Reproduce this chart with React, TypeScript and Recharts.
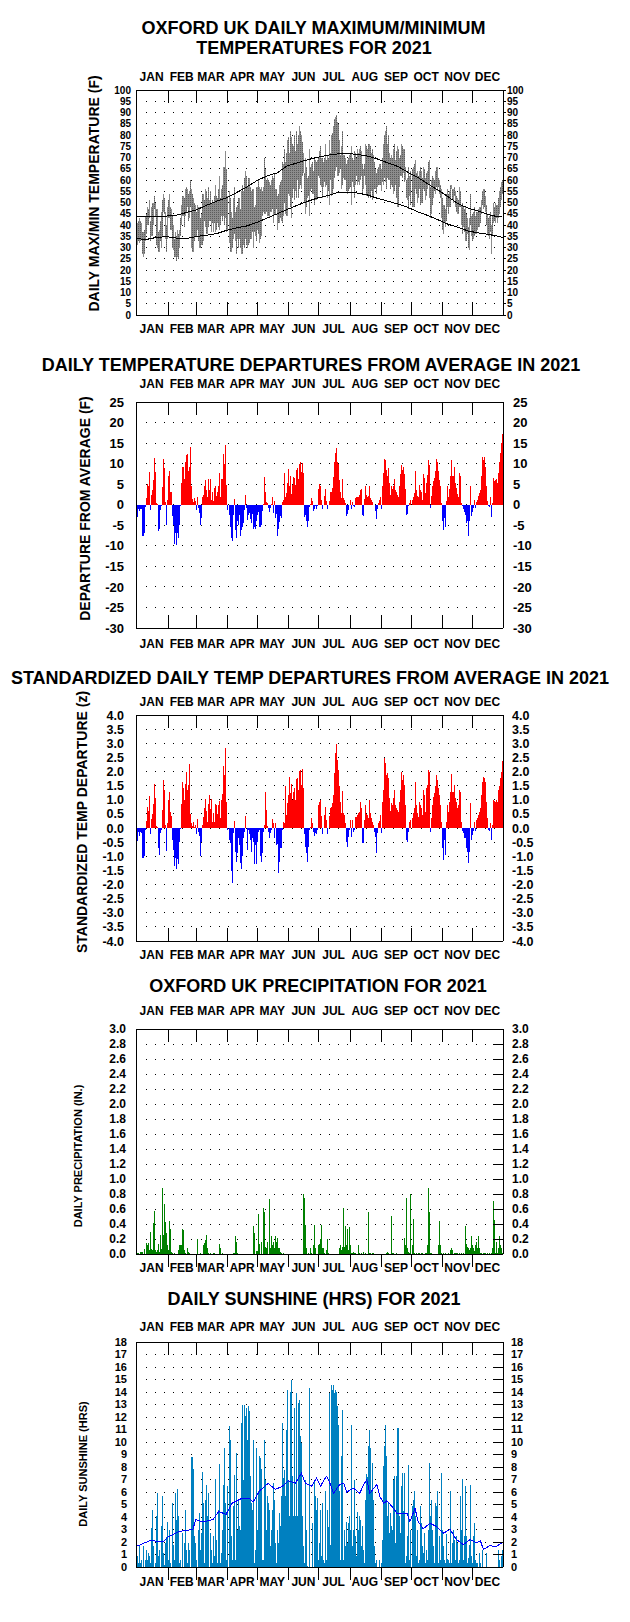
import React from "react";
import { Bar, CartesianGrid, Cell, ComposedChart, Line, XAxis, YAxis } from "recharts";

const FONT = "'Liberation Sans', Arial, Helvetica, sans-serif";

const months = ["JAN", "FEB", "MAR", "APR", "MAY", "JUN", "JUL", "AUG", "SEP", "OCT", "NOV", "DEC"];
const monthDays = [31, 28, 31, 30, 31, 30, 31, 31, 30, 31, 30, 31];

// daily max / min temperature (F), one row per month
const tmaxByMonth = [
  [39, 41, 42, 43, 42, 41, 37, 37, 38, 44, 45, 48, 47, 51, 42, 48, 50, 50, 53, 50, 47, 47, 37, 38, 42, 46, 51, 54, 52, 46, 40],
  [48, 51, 54, 48, 47, 44, 40, 34, 37, 35, 38, 36, 38, 43, 49, 53, 53, 52, 56, 57, 56, 54, 55, 60, 56, 54, 52, 50],
  [49, 46, 49, 48, 48, 43, 45, 54, 54, 51, 56, 55, 52, 57, 51, 55, 50, 51, 50, 53, 58, 53, 52, 56, 62, 52, 56, 58, 66, 66, 73],
  [65, 53, 55, 52, 46, 43, 52, 57, 46, 48, 49, 52, 52, 47, 55, 58, 55, 61, 64, 62, 57, 61, 61, 57, 55, 56, 56, 48, 49, 57],
  [57, 60, 57, 56, 57, 55, 57, 70, 65, 60, 61, 60, 59, 58, 60, 62, 61, 63, 56, 56, 53, 54, 58, 59, 60, 68, 67, 74, 68, 72, 78],
  [79, 72, 82, 79, 76, 75, 80, 73, 82, 76, 80, 84, 82, 80, 77, 72, 63, 70, 66, 61, 62, 74, 66, 67, 68, 64, 70, 69, 68, 69],
  [70, 73, 75, 70, 70, 68, 70, 76, 69, 71, 70, 78, 72, 80, 81, 84, 87, 88, 89, 86, 85, 78, 71, 75, 82, 71, 71, 70, 67, 69, 70],
  [71, 72, 75, 70, 69, 73, 72, 70, 74, 72, 74, 75, 73, 67, 65, 67, 76, 75, 74, 76, 76, 75, 72, 74, 71, 68, 65, 63, 65, 66, 67],
  [67, 65, 70, 76, 80, 82, 84, 76, 80, 72, 70, 71, 70, 74, 76, 69, 73, 75, 74, 70, 71, 76, 75, 74, 74, 66, 60, 61, 66, 62],
  [64, 65, 66, 67, 69, 63, 64, 62, 64, 66, 64, 61, 66, 65, 61, 63, 64, 68, 69, 57, 60, 62, 61, 60, 64, 66, 66, 61, 60, 58, 56],
  [52, 49, 49, 47, 54, 56, 54, 55, 58, 58, 56, 56, 57, 55, 53, 52, 51, 57, 55, 49, 50, 48, 47, 48, 45, 43, 39, 43, 54, 44],
  [45, 46, 48, 44, 46, 46, 47, 48, 48, 51, 55, 56, 56, 53, 49, 45, 43, 44, 46, 40, 44, 50, 48, 50, 49, 49, 52, 55, 57, 59, 60],
];
const tminByMonth = [
  [25, 31, 33, 32, 33, 34, 27, 26, 27, 33, 36, 40, 40, 43, 33, 35, 35, 40, 47, 44, 31, 30, 28, 28, 33, 30, 35, 46, 45, 34, 28],
  [34, 43, 43, 38, 38, 30, 29, 26, 26, 24, 26, 25, 30, 35, 40, 44, 44, 39, 44, 46, 48, 42, 43, 48, 30, 28, 28, 33],
  [35, 35, 38, 33, 30, 30, 31, 31, 33, 42, 39, 36, 36, 39, 42, 42, 37, 41, 37, 41, 37, 38, 41, 39, 38, 40, 44, 42, 44, 40, 43],
  [37, 38, 32, 28, 28, 30, 34, 36, 33, 27, 34, 30, 34, 30, 27, 27, 31, 30, 34, 31, 30, 31, 32, 34, 34, 37, 30, 37, 35, 33],
  [38, 36, 32, 34, 35, 44, 46, 45, 45, 46, 44, 44, 43, 46, 46, 47, 41, 45, 45, 47, 38, 41, 41, 43, 42, 41, 44, 50, 45, 44, 44],
  [54, 53, 48, 43, 52, 56, 51, 55, 52, 60, 52, 56, 58, 56, 62, 63, 50, 45, 48, 52, 53, 44, 55, 56, 54, 54, 49, 51, 51, 52],
  [62, 61, 58, 57, 52, 57, 59, 57, 58, 52, 55, 49, 60, 53, 54, 56, 61, 64, 66, 62, 62, 63, 65, 56, 58, 61, 60, 60, 55, 54, 55],
  [56, 57, 49, 59, 57, 52, 58, 62, 58, 59, 58, 60, 62, 54, 56, 62, 58, 53, 54, 52, 53, 52, 55, 51, 53, 56, 56, 54, 57, 58, 58],
  [58, 55, 59, 58, 61, 59, 56, 61, 60, 60, 56, 58, 57, 54, 55, 58, 52, 48, 48, 57, 62, 62, 61, 63, 59, 60, 52, 51, 47, 53],
  [49, 48, 48, 48, 56, 54, 50, 52, 56, 49, 50, 50, 56, 55, 51, 53, 56, 58, 52, 43, 45, 49, 52, 55, 54, 57, 55, 57, 54, 52, 43],
  [38, 36, 41, 39, 42, 48, 45, 48, 48, 56, 51, 50, 53, 48, 46, 45, 45, 48, 48, 40, 36, 39, 37, 33, 33, 36, 30, 29, 40, 35],
  [33, 34, 35, 36, 36, 38, 39, 39, 41, 45, 49, 47, 48, 46, 40, 36, 35, 34, 37, 27, 35, 41, 42, 41, 43, 41, 43, 45, 48, 51, 54],
];

// normal max / min, read every 10 days
const normalDays = [0, 10, 20, 30, 40, 50, 60, 70, 80, 90, 100, 110, 120, 130, 140, 150, 160, 170, 180, 190, 200, 210, 220, 230, 240, 250, 260, 270, 280, 290, 300, 310, 320, 330, 340, 350, 360, 364];
const normalMax = [43.8, 43.6, 43.6, 44.0, 44.4, 45.6, 46.8, 48.8, 50.6, 52.2, 54.5, 57.0, 59.8, 61.8, 63.2, 66.3, 67.6, 69.0, 70.1, 71.0, 71.6, 71.7, 71.4, 70.6, 69.3, 67.6, 66.0, 63.4, 61.1, 58.2, 55.5, 52.5, 49.4, 47.5, 46.2, 44.6, 43.6, 43.6];
const normalMin = [33.9, 33.6, 34.5, 34.8, 34.2, 34.0, 34.9, 35.5, 36.2, 37.7, 38.8, 39.6, 41.2, 43.1, 45.0, 46.9, 48.8, 50.5, 52.0, 53.0, 54.4, 54.4, 54.2, 53.3, 51.8, 50.6, 49.3, 47.8, 45.8, 44.2, 42.3, 40.3, 39.0, 37.3, 36.5, 35.8, 35.0, 34.4];

// average sunshine line, read at the days listed
const sunAvgDays = [0, 13, 27, 31, 43, 56, 59, 66, 76, 82, 89, 95, 105, 112, 116, 122, 131, 138, 145, 151, 158, 164, 168, 174, 179, 183, 186, 189, 193, 196, 202, 206, 209, 216, 222, 226, 229, 232, 239, 242, 246, 249, 254, 259, 269, 272, 277, 280, 285, 292, 298, 305, 312, 318, 325, 332, 338, 342, 345, 351, 358, 363];
const sunAvg = [1.65, 2.1, 2.05, 2.4, 2.85, 3.0, 3.8, 3.6, 3.8, 4.45, 4.2, 5.1, 5.5, 5.5, 5.2, 6.05, 6.7, 6.2, 6.45, 6.9, 6.7, 7.5, 6.7, 6.45, 7.1, 6.45, 6.9, 7.25, 6.6, 5.9, 6.6, 6.7, 6.0, 6.3, 5.9, 6.6, 7.0, 5.9, 6.6, 5.65, 5.1, 5.3, 4.85, 4.3, 4.3, 3.65, 4.7, 3.65, 3.05, 3.5, 3.25, 2.7, 3.0, 2.2, 1.8, 2.2, 1.95, 2.1, 1.4, 1.7, 1.65, 1.9];

// daily departure from average (F)
const depByMonth = [
  [-6.7, -3, -1, -1.6, -1, -1, -7.5, -7.5, -7, -0.5, 1.6, 5, 4.5, 8, -1.4, 2.4, 3.7, 6, 11.3, 8, 0.5, 0.2, -6.5, -6, -1.2, -0.4, 4.2, 11.2, 9, 0.7, -5],
  [1.2, 7, 8.3, 3.2, 3, -2.8, -5, -9.5, -7, -9.8, -7, -8, -5, -0.3, 5.3, 9.3, 9.1, 6.2, 10.3, 12, 12.4, 8.3, 9.3, 14, 4.5, 1.5, 0.6, 1.6],
  [0.8, -1.2, 1.9, -0.8, -2, -5, -3.2, 1.9, 2.3, 4.5, 6, 3.7, 1.9, 6.2, 3.7, 6.2, 1.2, 3.2, 0.8, 4, 4.6, 2.2, 3.2, 4.6, 7.7, 1.9, 6.2, 6.2, 12.3, 10, 14.6],
  [4.8, -1.4, -2.6, -5.4, -8.1, -8.9, -2.4, 1.5, -6.1, -8.1, -4, -4.9, -2.4, -7.7, -6.2, -5.3, -4.5, -1.4, 2.4, -0.8, -3.8, -2.4, -2, -3.5, -4.5, -2.2, -6, -5.3, -6, -4],
  [-2.4, -1.8, -5.4, -5.3, -4.9, -1.6, 0.2, 6.7, 3.2, 0.6, 0.4, -0.8, -1.8, -0.8, 0.2, 1.9, -2, 1, -3.2, -2.2, -7.7, -5.9, -4.3, -2.8, -3.2, 0.6, 1.2, 7.7, 2, 2.8, 5.3],
  [8.8, 4.5, 6.9, 2.7, 4.9, 6.7, 6.6, 4.9, 8.5, 8.9, 6.2, 10, 10.3, 8, 10.2, 7.7, -3, -2.4, -4, -5.4, -4, -0.6, 0.1, 1.6, 0.8, -1.6, -1, -0.4, -1, -0.4],
  [3.8, 5, 4.5, 1.2, -1, 0, 2.2, 3.8, 0.8, -1, 0, 0.8, 3, 3.2, 4, 6.7, 10.5, 12.6, 13.8, 10.5, 10, 6, 3.2, 1.6, 6.2, 1.6, 1.2, 0.4, -2.8, -2.2, -1.2],
  [0, 1.2, -1, 0.6, -0.4, -0.6, 1.6, 2, 1.9, 1.8, 2.4, 3.7, 3.8, -2.4, -2.7, 1.5, 4.5, 2.4, 2, 2.2, 4.6, 1.6, 1.2, 0.6, 0, 0, -1.6, -3.5, -1, 0.4, 1.2],
  [2, -1, 4.6, 7.7, 11.1, 10.8, 8.5, 7, 8.9, 5.3, 2.4, 4.5, 3.8, 4.5, 6.2, 3.7, 3, 2.4, 1.9, 4.5, 7.5, 9.7, 8.5, 9.2, 7.5, 3.8, -2.4, -2.2, -0.4, 0.4],
  [1.1, 1.2, 2, 2.8, 8.1, 3.6, 2.2, 2, 4.9, 3.6, 3.2, 1.2, 7.5, 6.5, 2.8, 5.3, 7.3, 11, 9.7, -0.8, 2.2, 4.5, 5.7, 6.5, 8.3, 11.1, 10.3, 8.1, 6.1, 4.5, 0.4],
  [-4, -6.1, -3.3, -5.3, 0.8, 4.5, 2, 3.8, 6.9, 10.8, 7, 6.9, 9.3, 5.3, 4, 2.7, 2, 7.7, 7, 0.4, -0.4, -1, -1.8, -2.4, -4.5, -4, -7.5, -4, 4.5, -2.8],
  [-1.8, -0.8, 1.2, -0.8, 0.6, 1.2, 2.2, 2.8, 3.6, 6.9, 11.7, 11, 11.7, 9.3, 4.5, 0.8, -0.4, -0.6, 2, -3, 0.4, 6.5, 5.8, 6.1, 6.2, 5.3, 7.7, 10.5, 12.7, 15, 17.3],
];

// standardized daily departure (z)
const zByMonth = [
  [-0.93, -0.45, -0.13, -0.27, -0.13, -0.19, -1.07, -1.05, -1.0, -0.07, 0.25, 0.74, 0.6, 1.13, -0.2, 0.31, 0.5, 0.85, 1.55, 1.05, 0.06, 0.02, -0.7, -0.95, -0.19, -0.07, 0.64, 1.69, 1.35, 0.11, -0.8],
  [0.17, 1.0, 1.26, 0.55, 0.42, -0.43, -0.77, -1.36, -1.05, -1.45, -1.1, -1.29, -0.48, -0.02, 0.85, 1.62, 1.43, 0.98, 1.55, 2.0, 1.35, 1.52, 2.25, 0.5, 0.17, 0.08, 0.2, 0.02],
  [0.11, -0.2, 0.32, -0.13, -0.3, -1.0, -0.5, 0.11, 0.39, 0.72, 1.03, 0.6, 0.2, 0.86, 1.17, 0.67, 1.03, 0.2, 0.53, 0.22, 0.84, 0.81, 0.48, 0.81, 0.97, 0.34, 1.0, 1.19, 2.2, 1.88, 2.84],
  [0.93, -0.07, -0.43, -0.54, -1.51, -1.94, -0.19, 0.25, -0.84, -1.19, -0.9, -0.37, -0.6, -1.25, -1.44, -1.0, -0.37, -0.13, 0.42, -0.01, -0.78, -0.07, -0.2, -0.43, -0.84, -0.37, -0.48, -1.29, -0.6, -1.27],
  [-0.48, -0.13, -0.07, -1.0, -1.19, -0.9, -0.13, 0.1, 1.26, 0.64, 0.06, -0.13, -0.37, -0.19, -0.07, 0.32, 0.17, -0.37, 0.17, -0.6, -0.58, -1.6, -1.19, -0.72, -0.7, -0.07, 0.22, 0.17, 1.49, 0.46, 0.87],
  [1.17, 1.79, 1.23, 1.57, 1.0, 1.26, 1.41, 0.98, 1.73, 1.76, 1.35, 2.03, 2.04, 1.52, 2.08, 1.41, -0.2, -0.66, -0.9, -1.19, -0.66, -0.07, 0.02, 0.34, 0.17, -0.13, -0.27, -0.19, -0.22, -0.07],
  [0.81, 0.93, 0.99, 0.42, -0.22, 0, 0.46, 0.75, 0.28, -0.2, 0, 0.44, 0.7, 0.75, 0.87, 1.17, 1.96, 2.67, 2.96, 2.4, 2.05, 1.47, 0.93, 0.52, 1.31, 0.52, 0.46, 0.17, -0.48, -0.66, -0.31],
  [-0.07, 0.28, -0.31, 0.28, -0.13, -0.07, 0.4, 0.39, 0.46, 0.52, 0.55, 0.93, 0.7, -0.54, -0.54, 0.28, 0.81, 0.48, 0.46, 0.34, 1.0, 0.52, 0.34, 0.22, 0.1, -0.13, -0.31, -0.9, -0.19, 0.17, 0.25],
  [0.46, -0.19, 0.93, 1.35, 2.47, 2.3, 1.88, 1.94, 1.76, 1.05, 0.6, 0.87, 0.81, 1.05, 1.35, 0.81, 0.72, 0.64, 0.55, 0.93, 1.35, 2.0, 1.7, 1.88, 1.52, 0.81, -0.43, -0.48, -0.13, 0.22],
  [0.28, 0.34, 0.52, 0.7, 1.64, 0.81, 0.52, 0.4, 0.93, 0.81, 0.7, 0.46, 1.35, 1.17, 0.58, 1.41, 1.52, 2.05, 2.0, -0.13, 0.34, 0.81, 1.1, 1.23, 1.47, 1.88, 1.7, 1.41, 1.17, 0.81, 0.22],
  [-0.72, -1.13, -0.42, -0.96, 0.22, 0.81, 0.58, 0.93, 1.29, 1.9, 1.27, 1.29, 1.52, 1.05, 0.93, 0.7, 0.81, 1.35, 1.29, 0.22, -0.11, -0.19, -0.37, -0.34, -0.72, -0.84, -1.25, -0.84, 0.87, -0.42],
  [-0.25, -0.11, 0.22, -0.11, 0.28, 0.34, 0.46, 0.58, 0.7, 1.17, 1.64, 1.79, 1.76, 1.64, 0.93, 0.34, -0.07, -0.11, 0.17, -0.42, 0.11, 0.99, 0.96, 0.93, 0.99, 0.93, 1.35, 1.47, 1.76, 2.0, 2.37],
];

// daily precipitation (in.)
const precipByMonth = [
  [0.02, 0.02, 0.02, 0, 0.03, 0.03, 0.03, 0, 0.07, 0, 0.15, 0.12, 0.15, 0.05, 0.3, 0.07, 0.05, 0.42, 0.57, 0.05, 0.03, 0.05, 0.14, 0.03, 0.25, 0.07, 0.88, 0.25, 0.67, 0.43, 0.28],
  [0.12, 0.05, 0.44, 0.34, 0.03, 0.02, 0, 0.02, 0, 0, 0, 0.05, 0.12, 0.12, 0.12, 0.34, 0.32, 0.05, 0.02, 0, 0.08, 0.03, 0.02, 0, 0, 0, 0, 0],
  [0, 0, 0.2, 0, 0, 0.02, 0, 0, 0.12, 0.15, 0.19, 0.25, 0.08, 0.02, 0, 0.02, 0, 0, 0.02, 0.02, 0, 0, 0, 0, 0.13, 0.08, 0, 0.02, 0, 0, 0],
  [0, 0, 0, 0, 0, 0, 0.02, 0.01, 0.24, 0.16, 0.02, 0, 0, 0, 0, 0, 0, 0, 0, 0, 0, 0, 0, 0, 0, 0, 0.38, 0.28, 0, 0.04],
  [0.04, 0.53, 0.13, 0, 0.16, 0, 0.62, 0.56, 0.1, 0.08, 0.16, 0, 0.73, 0.08, 0.24, 0.12, 0.16, 0.08, 0.24, 0.16, 0.22, 0.08, 0.08, 0.03, 0.02, 0, 0.02, 0, 0, 0, 0],
  [0, 0, 0, 0, 0, 0, 0, 0, 0, 0, 0, 0, 0, 0, 0, 0.8, 0.75, 0.39, 0.08, 0, 0.02, 0, 0.08, 0.02, 0, 0.12, 0.39, 0.08, 0, 0],
  [0.12, 0.13, 0.2, 0.39, 0.08, 0.08, 0.02, 0, 0.05, 0.2, 0.02, 0, 0, 0, 0, 0, 0, 0, 0, 0, 0, 0.08, 0.12, 0.05, 0.1, 0.61, 0.1, 0.38, 0.12, 0.34, 0.05],
  [0.36, 0.12, 0.02, 0.02, 0.03, 0.02, 0.02, 0, 0, 0.12, 0.02, 0, 0.02, 0, 0.03, 0, 0.02, 0, 0, 0.56, 0.02, 0.02, 0, 0.02, 0.02, 0, 0, 0, 0, 0, 0],
  [0, 0, 0, 0, 0, 0, 0.02, 0.03, 0.02, 0, 0, 0.51, 0.02, 0.02, 0, 0, 0.02, 0, 0, 0, 0, 0, 0, 0, 0.21, 0.12, 0.75, 0.08, 0.03, 0.02],
  [0.8, 0.12, 0.47, 0.02, 0, 0.02, 0, 0.02, 0.02, 0, 0.02, 0.02, 0, 0, 0.02, 0.02, 0.12, 0.88, 0.56, 0.02, 0.02, 0, 0, 0, 0, 0, 0, 0.12, 0.44, 0.12, 0.02],
  [0, 0.02, 0, 0.02, 0, 0, 0.02, 0, 0.05, 0.08, 0.05, 0, 0.02, 0.02, 0.02, 0.02, 0, 0.02, 0, 0.02, 0, 0.02, 0, 0.38, 0.13, 0.1, 0.08, 0.05, 0.08, 0.24],
  [0.12, 0.08, 0.04, 0.12, 0.16, 0.08, 0.24, 0.08, 0.02, 0.02, 0, 0.02, 0.02, 0.02, 0, 0.02, 0, 0.02, 0, 0.02, 0.08, 0.71, 0.45, 0.02, 0.16, 0.02, 0.08, 0.24, 0.12, 0.08, 0.02],
];

// daily sunshine (hrs)
const sunByMonth = [
  [3.6, 0.85, 0.3, 1.65, 0.3, 0.6, 0, 1.65, 0, 0.6, 1.4, 0.6, 1.1, 0.85, 0.3, 3.1, 4.6, 1.65, 0, 0.3, 4.05, 5.9, 0.85, 1.4, 0, 3.3, 5.65, 1.1, 0.2, 1.9, 2.4],
  [3.6, 0.6, 3.0, 0.3, 0, 5.1, 1.8, 0.6, 5.9, 3.8, 6.25, 4.05, 0.3, 0.6, 0, 2.7, 0, 1.9, 4.6, 1.4, 0.3, 1.9, 1.4, 0, 8.8, 8.8, 7.85, 2.45],
  [1.9, 0.6, 0, 3.0, 4.3, 1.4, 2.7, 7.6, 5.1, 0.3, 5.35, 6.6, 4.05, 5.9, 0, 2.7, 1.4, 0.3, 2.45, 0.85, 7.05, 2.2, 0.3, 4.6, 8.25, 0.3, 1.1, 3.0, 6.6, 9.5, 5.1],
  [0.6, 6.45, 11.25, 10.2, 2.45, 0.6, 4.85, 7.35, 0.6, 9.1, 3.0, 5.4, 3.25, 3.0, 11.5, 13.0, 7.0, 13.0, 12.05, 12.7, 10.2, 12.9, 12.45, 7.25, 5.1, 4.6, 10.2, 0.3, 1.4, 9.5],
  [3.0, 6.1, 8.85, 8.7, 7.85, 0.6, 0.6, 10.2, 7.0, 3.0, 5.65, 5.1, 4.6, 1.65, 3.0, 4.6, 6.7, 5.35, 1.9, 0.3, 3.0, 1.9, 4.3, 3.25, 5.65, 11.5, 7.1, 7.75, 5.65, 11.0, 14.2],
  [7.0, 4.05, 14.0, 15.0, 7.25, 4.05, 12.7, 4.05, 13.9, 4.05, 13.1, 13.4, 10.45, 9.9, 4.05, 1.65, 0.3, 7.0, 3.0, 0.05, 0, 14.3, 0, 0, 3.5, 0, 7.0, 5.65, 4.6, 5.5],
  [0.6, 1.9, 4.6, 0.85, 5.1, 0.6, 0.3, 6.1, 0.6, 4.6, 3.2, 13.9, 1.8, 14.6, 14.2, 14.6, 13.9, 14.2, 14.0, 12.9, 11.4, 6.1, 0.6, 8.85, 12.6, 0.6, 3.0, 1.65, 3.6, 1.9, 3.5],
  [4.05, 3.0, 11.4, 1.65, 3.0, 7.0, 2.45, 0.85, 4.4, 3.0, 4.05, 3.8, 1.65, 3.25, 1.4, 0.3, 5.35, 7.45, 7.2, 9.65, 11.0, 9.5, 6.1, 8.3, 5.35, 1.65, 0.3, 0.6, 0, 0, 0.6],
  [0, 0.3, 2.2, 8.1, 9.65, 11.4, 8.85, 4.05, 5.1, 2.7, 4.3, 3.25, 3.0, 7.0, 7.25, 1.9, 7.25, 11.1, 11.1, 4.05, 2.7, 6.45, 7.55, 4.5, 7.55, 0.3, 0.85, 2.45, 8.2, 0.6],
  [3.0, 4.9, 5.35, 6.1, 4.05, 0.85, 3.0, 0.3, 0.6, 4.9, 3.5, 1.65, 1.1, 2.7, 0.3, 1.4, 0.6, 3.0, 8.3, 4.05, 5.35, 3.0, 1.65, 0.3, 5.1, 4.85, 6.1, 0.3, 2.45, 0.6, 7.5],
  [3.0, 1.65, 0.6, 0.3, 2.65, 0.65, 0.6, 0.3, 6.1, 0.3, 1.9, 3.0, 2.2, 0.6, 2.45, 1.9, 0.3, 0.6, 5.65, 3.0, 7.05, 0.6, 2.45, 6.5, 2.45, 0.3, 0.7, 1.8, 6.6, 0.85],
  [0.3, 2.45, 3.5, 0.6, 0.3, 0.3, 0, 1.1, 0.3, 0, 1.4, 0, 0, 0, 1.1, 0, 0, 0, 0, 0, 0, 0, 0, 0, 0, 0, 1.4, 0.6, 0, 0.85, 1.4],
];

const tempTicks = [0, 5, 10, 15, 20, 25, 30, 35, 40, 45, 50, 55, 60, 65, 70, 75, 80, 85, 90, 95, 100];
const depTicks = [-30, -25, -20, -15, -10, -5, 0, 5, 10, 15, 20, 25];
const zTicks = [-4, -3.5, -3, -2.5, -2, -1.5, -1, -0.5, 0, 0.5, 1, 1.5, 2, 2.5, 3, 3.5, 4];
const precipTicks = [0, 0.2, 0.4, 0.6, 0.8, 1, 1.2, 1.4, 1.6, 1.8, 2, 2.2, 2.4, 2.6, 2.8, 3];
const sunTicks = [0, 1, 2, 3, 4, 5, 6, 7, 8, 9, 10, 11, 12, 13, 14, 15, 16, 17, 18];

// ---- build one row per day
const tmax = tmaxByMonth.flat();
const tmin = tminByMonth.flat();
const dep = depByMonth.flat();
const zdep = zByMonth.flat();
const precip = precipByMonth.flat();
const sun = sunByMonth.flat();
const nmaxAt = new Map(normalDays.map((d, i) => [d, normalMax[i]]));
const nminAt = new Map(normalDays.map((d, i) => [d, normalMin[i]]));
const sunAvgAt = new Map(sunAvgDays.map((d, i) => [d, sunAvg[i]]));

const rows = tmax.map((_, d) => ({
  d,
  range: [tmin[d], tmax[d]],
  nmax: nmaxAt.get(d) ?? null,
  nmin: nminAt.get(d) ?? null,
  dep: dep[d],
  z: zdep[d],
  precip: precip[d],
  sun: sun[d],
  sunAvg: sunAvgAt.get(d) ?? null,
}));

const monthStarts: number[] = [];
monthDays.reduce((acc, n) => {
  monthStarts.push(acc);
  return acc + n;
}, 0);
const monthMids = monthStarts.map((s, i) => s + Math.floor(monthDays[i] / 2));
const xTicks = [...monthStarts.slice(1), ...monthMids].sort((a, b) => a - b);

const W = 630;
const PLOT_L = 136;
const PLOT_R = 503;

type Panel = {
  top: number;
  height: number;
  plotTop: number;
  plotBottom: number;
  labelTop: number;
  labelBottom: number;
  outsideBottom: boolean;
  tickFont: number;
  leftX: number;
  rightX: number;
  rightTick?: [number, number];
};

const P_TEMP: Panel = { top: 60, height: 290, plotTop: 90, plotBottom: 315, labelTop: 80.5, labelBottom: 332.5, outsideBottom: false, tickFont: 10, leftX: 131, rightX: 507, rightTick: [503, 506] };
const P_DEP: Panel = { top: 372, height: 283, plotTop: 402, plotBottom: 628, labelTop: 387.5, labelBottom: 647.5, outsideBottom: false, tickFont: 13, leftX: 124, rightX: 513 };
const P_Z: Panel = { top: 688, height: 277, plotTop: 715, plotBottom: 941, labelTop: 705.5, labelBottom: 958.5, outsideBottom: false, tickFont: 12.5, leftX: 124, rightX: 512 };
const P_RAIN: Panel = { top: 998, height: 282, plotTop: 1029, plotBottom: 1254, labelTop: 1014.5, labelBottom: 1271.5, outsideBottom: true, tickFont: 12, leftX: 126, rightX: 512, rightTick: [493, 503] };
const P_SUN: Panel = { top: 1312, height: 283, plotTop: 1342, plotBottom: 1567, labelTop: 1330.5, labelBottom: 1585.5, outsideBottom: true, tickFont: 11, leftX: 127, rightX: 511, rightTick: [493, 503] };

const txt = { fontFamily: FONT, fontWeight: 700, fill: "#000" } as const;

function monthTick(p: Panel, side: "top" | "bottom") {
  const pt = p.plotTop - p.top;
  const pb = p.plotBottom - p.top;
  return (props: any) => {
    const { x, payload } = props;
    const v = payload.value as number;
    const bi = monthStarts.indexOf(v);
    if (bi > 0) {
      const bx = Math.round(x) + 0.5;
      let y1 = pt;
      let y2 = pt + 13;
      if (side === "bottom") {
        y1 = p.outsideBottom ? pb : pb - 13;
        y2 = p.outsideBottom ? pb + 13 : pb;
      }
      return <line x1={bx} x2={bx} y1={y1} y2={y2} stroke="#000" strokeWidth={1} />;
    }
    const mi = monthMids.indexOf(v);
    const ly = (side === "top" ? p.labelTop : p.labelBottom) - p.top;
    return (
      <text x={x} y={ly} textAnchor="middle" fontSize={12} {...txt}>
        {months[mi]}
      </text>
    );
  };
}

function valueTick(p: Panel, side: "left" | "right", fmt: (v: number) => string) {
  return (props: any) => {
    const { y, payload } = props;
    const v = payload.value as number;
    const showTick = side === "right" && p.rightTick;
    return (
      <g>
        {showTick ? <line x1={p.rightTick![0]} x2={p.rightTick![1]} y1={y} y2={y} stroke="#000" /> : null}
        <text x={side === "left" ? p.leftX : p.rightX} y={y + p.tickFont * 0.36} textAnchor={side === "left" ? "end" : "start"} fontSize={p.tickFont} {...txt}>
          {fmt(v)}
        </text>
      </g>
    );
  };
}

function gridLine(p: Panel) {
  const pt = p.plotTop - p.top;
  const pb = p.plotBottom - p.top;
  return (props: any) => {
    const { x1, x2, y1, index } = props;
    if (Math.abs(y1 - pt) < 1 || Math.abs(y1 - pb) < 1) return <g key={`g${index}`} />;
    return <line key={`g${index}`} x1={x1 + 9.5} x2={x2} y1={y1} y2={y1} stroke="#000" strokeDasharray="1 8.17" />;
  };
}

function PanelChart({ p, domain, ticks, fmt, children }: { p: Panel; domain: [number, number]; ticks: number[]; fmt: (v: number) => string; children: React.ReactNode }) {
  return (
    <div style={{ position: "absolute", left: 0, top: p.top, width: W, height: p.height, shapeRendering: "crispEdges" } as React.CSSProperties}>
      <ComposedChart width={W} height={p.height} data={rows} margin={{ top: 0, right: 0, bottom: 0, left: 0 }} barCategoryGap={0} barGap={0}>
        <CartesianGrid yAxisId="l" vertical={false} horizontal={gridLine(p)} />
        <XAxis dataKey="d" type="category" ticks={xTicks} interval={0} height={p.top + p.height - p.plotBottom} tickLine={false} axisLine={{ stroke: "#000" }} tick={monthTick(p, "bottom")} />
        <XAxis xAxisId="top" orientation="top" dataKey="d" type="category" ticks={xTicks} interval={0} height={p.plotTop - p.top} tickLine={false} axisLine={{ stroke: "#000" }} tick={monthTick(p, "top")} />
        <YAxis yAxisId="l" type="number" domain={domain} ticks={ticks} interval={0} width={PLOT_L} tickLine={false} axisLine={{ stroke: "#000" }} tick={valueTick(p, "left", fmt)} allowDataOverflow />
        <YAxis yAxisId="r" orientation="right" type="number" domain={domain} ticks={ticks} interval={0} width={W - PLOT_R} tickLine={false} axisLine={{ stroke: "#000" }} tick={valueTick(p, "right", fmt)} allowDataOverflow />
        {children}
      </ComposedChart>
    </div>
  );
}

const int = (v: number) => String(v);
const one = (v: number) => v.toFixed(1);

function Titles() {
  const title = (x: number, y: number, s: string) => (
    <text x={x} y={y} textAnchor="middle" fontSize={18} {...txt}>
      {s}
    </text>
  );
  const ylab = (cx: number, cy: number, size: number, s: string) => (
    <text transform={`translate(${cx + size * 0.36},${cy}) rotate(-90)`} textAnchor="middle" fontSize={size} {...txt}>
      {s}
    </text>
  );
  return (
    <svg width={W} height={1622} style={{ position: "absolute", left: 0, top: 0, pointerEvents: "none" }}>
      <defs>
        <pattern id="stipple" width="2" height="2" patternUnits="userSpaceOnUse">
          <rect width="2" height="2" fill="#8c8c8c" />
          <rect width="1" height="1" fill="#5c5c5c" />
        </pattern>
      </defs>
      {title(313.5, 34, "OXFORD UK DAILY MAXIMUM/MINIMUM")}
      {title(314, 53.5, "TEMPERATURES FOR 2021")}
      {title(311, 371, "DAILY TEMPERATURE DEPARTURES FROM AVERAGE IN 2021")}
      {title(310, 684, "STANDARDIZED DAILY TEMP DEPARTURES FROM AVERAGE IN 2021")}
      {title(318, 992, "OXFORD UK PRECIPITATION FOR 2021")}
      {title(314, 1305, "DAILY SUNSHINE (HRS) FOR 2021")}
      {ylab(94, 193.5, 14, "DAILY MAX/MIN TEMPERATURE (F)")}
      {ylab(85, 508.5, 14, "DEPARTURE FROM AVERAGE (F)")}
      {ylab(82, 822, 14, "STANDARDIZED TEMP DEPARTURE (z)")}
      {ylab(78, 1156, 11, "DAILY PRECIPITATION (IN.)")}
      {ylab(83, 1464, 11, "DAILY SUNSHINE (HRS)")}
    </svg>
  );
}

export default function App() {
  return (
    <div style={{ position: "absolute", left: 0, top: 0, width: W, height: 1622, background: "#fff" }}>
      <PanelChart p={P_TEMP} domain={[0, 100]} ticks={tempTicks} fmt={int}>
        <Bar yAxisId="l" dataKey="range" fill="url(#stipple)" isAnimationActive={false} />
        <Line yAxisId="l" dataKey="nmax" stroke="#000" strokeWidth={1} dot={false} connectNulls isAnimationActive={false} />
        <Line yAxisId="l" dataKey="nmin" stroke="#000" strokeWidth={1} dot={false} connectNulls isAnimationActive={false} />
      </PanelChart>
      <PanelChart p={P_DEP} domain={[-30, 25]} ticks={depTicks} fmt={int}>
        <Bar yAxisId="l" dataKey="dep" isAnimationActive={false}>
          {rows.map((r) => (
            <Cell key={r.d} fill={r.dep >= 0 ? "#ff0000" : "#0000ff"} />
          ))}
        </Bar>
      </PanelChart>
      <PanelChart p={P_Z} domain={[-4, 4]} ticks={zTicks} fmt={one}>
        <Bar yAxisId="l" dataKey="z" isAnimationActive={false}>
          {rows.map((r) => (
            <Cell key={r.d} fill={r.z >= 0 ? "#ff0000" : "#0000ff"} />
          ))}
        </Bar>
      </PanelChart>
      <PanelChart p={P_RAIN} domain={[0, 3]} ticks={precipTicks} fmt={one}>
        <Bar yAxisId="l" dataKey="precip" fill="#008000" isAnimationActive={false} />
      </PanelChart>
      <PanelChart p={P_SUN} domain={[0, 18]} ticks={sunTicks} fmt={int}>
        <Bar yAxisId="l" dataKey="sun" fill="#0080c0" isAnimationActive={false} />
        <Line yAxisId="l" dataKey="sunAvg" stroke="#0000ff" strokeWidth={1} dot={false} connectNulls isAnimationActive={false} />
      </PanelChart>
      <Titles />
    </div>
  );
}
